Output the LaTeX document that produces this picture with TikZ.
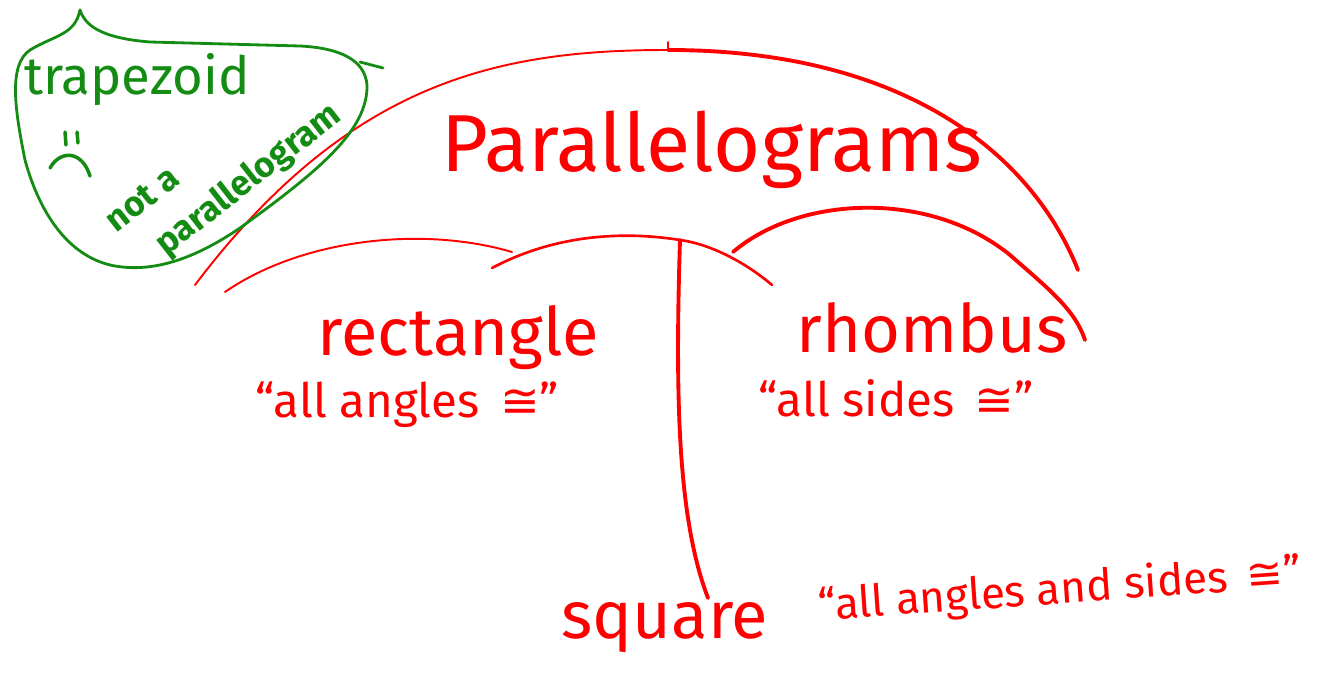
\documentclass[tikz,border=0pt]{standalone}
\usepackage{fontspec}
\setmainfont{Fira Sans}
\newfontfamily\symfont{DejaVu Sans}
\usetikzlibrary{positioning}
\definecolor{inkred}{RGB}{255,0,0}
\definecolor{inkgreen}{RGB}{20,140,20}
\tikzset{
  figword/.style={text=inkred, inner sep=0pt, font=\fontsize{38}{42}\selectfont},
  fignote/.style={text=inkred, inner sep=0pt, anchor=west, font=\fontsize{27}{30}\selectfont},
  figgreen/.style={text=inkgreen, inner sep=0pt},
  figline/.style={draw=inkred, line width=1.1pt, line cap=round},
  figthick/.style={figline, line width=2.2pt},
  figblob/.style={draw=inkgreen, line width=1.6pt, line cap=round},
}
\newcommand{\iscong}{\,{\symfont ≅}}

\begin{document}
\begin{tikzpicture}[x=0.02cm, y=-0.02cm]
  \useasboundingbox (0,0) rectangle (1336,675);
  % words
  \node[figword, font=\fontsize{46}{50}\selectfont] (para) at (712,150) {Parallelograms};
  \node[figword] (rect) at (458,338) {rectangle};
  \node[fignote] (rectnote) at (255,405) {“all angles \iscong”};
  \node[figword] (rhom) at (932,328) {rhombus};
  \node[fignote] (rhomnote) at (758,398) {“all sides \iscong”};
  \node[figword] (sq) at (665,628) {square};
  \node[fignote, rotate=4, font=\fontsize{25}{28}\selectfont] (sqnote) at (818,608) {“all angles and sides \iscong”};
  \node[figgreen, font=\fontsize{30}{34}\selectfont] (trap) at (137,80) {trapezoid};
  \node[figgreen, rotate=38, align=left, font=\bfseries\fontsize{20}{28}\selectfont]
    (notpar) at (225,170) {not a\\\hspace*{0.5cm}parallelogram};
  % umbrellas
  \coordinate (bigl) at (195,285);
  \coordinate (bigtop) at (668,50);
  \coordinate (bigr) at (1078,270);
  \draw[figline] (bigl) .. controls (350,80) and (500,50) .. (bigtop);
  \draw[figthick] (bigtop) .. controls (900,50) and (1030,150) .. (bigr);
  \draw[figline] (668,42) -- (bigtop);
  \coordinate (rectl) at (225,292);
  \coordinate (rectr) at (512,252);
  \draw[figline] (rectl) .. controls (300,240) and (420,225) .. (rectr);
  \coordinate (midl) at (492,268);
  \coordinate (stem) at (680,240);
  \coordinate (midr) at (772,285);
  \draw[figline, line width=1.5pt] (midl) .. controls (560,232) and (630,232) .. (stem)
    .. controls (710,244) and (745,262) .. (midr);
  \coordinate (rhoml) at (733,252);
  \coordinate (rhomr) at (1085,340);
  \draw[figthick] (rhoml) .. controls (800,195) and (930,190) .. (1010,255)
    .. controls (1050,290) and (1075,310) .. (rhomr);
  \coordinate (sqtop) at (708,598);
  \draw[figthick] (stem) .. controls (675,400) and (678,520) .. (sqtop);
  % green note
  \draw[figblob] (80,10) .. controls (85,25) and (100,38) .. (150,42) -- (300,46)
    .. controls (340,48) and (365,60) .. (367,85)
    .. controls (368,130) and (320,170) .. (240,228)
    .. controls (190,262) and (150,272) .. (115,266)
    .. controls (70,258) and (40,215) .. (25,160)
    .. controls (15,110) and (8,65) .. (30,50)
    .. controls (55,35) and (75,35) .. (80,10);
  \draw[figblob] (360,62) -- (383,68);
  \draw[figblob, line width=2pt] (65,132) -- (66,145) (77,132) -- (78,143);
  \draw[figblob, line width=2pt] (50,168) .. controls (60,150) and (82,150) .. (90,176);
\end{tikzpicture}
\end{document}
